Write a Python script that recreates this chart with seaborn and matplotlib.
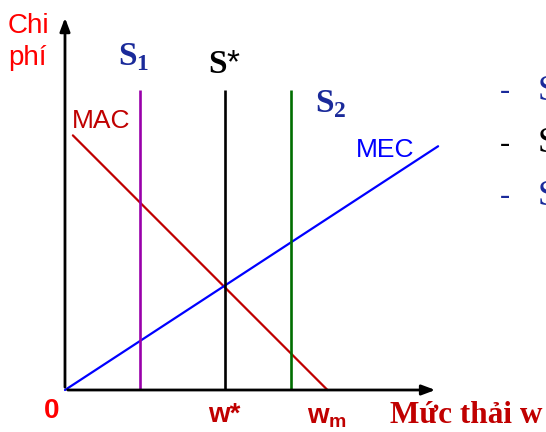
import seaborn as sns
import matplotlib.pyplot as plt
import pandas as pd

sns.set_style('white')
plt.rcParams['font.family'] = ['Liberation Sans', 'DejaVu Sans']
plt.rcParams['mathtext.fontset'] = 'custom'
plt.rcParams['mathtext.bf'] = 'Liberation Serif:bold'
plt.rcParams['mathtext.rm'] = 'Liberation Serif:bold'

# curves (emission level w, cost)
mac_x = [0.21, 7.0]
mac_y = [6.79, 0.0]
mec_x = [0.0, 9.95]
mec_y = [0.0, 6.5]

# standards (vertical lines)
std_names = ['S1', 'S*', 'S2']
std_x = [2.0, 4.27, 6.03]
std_top = 8.0
std_colors = ['#9900aa', 'black', '#006e00']

w_star = 4.27
w_m = 7.0

df = pd.concat([
    pd.DataFrame({'w': mac_x, 'cost': mac_y, 'curve': 'MAC'}),
    pd.DataFrame({'w': mec_x, 'cost': mec_y, 'curve': 'MEC'}),
])

fig = plt.figure(figsize=(5.46, 4.32), dpi=100)
ax = fig.add_axes([0, 0, 1, 1])

sns.lineplot(data=df, x='w', y='cost', hue='curve',
             palette={'MAC': '#c00000', 'MEC': '#0000ff'},
             linewidth=1.6, legend=False, ax=ax)

for x, c in zip(std_x, std_colors):
    ax.vlines(x, 0, std_top, color=c, linewidth=1.9)

# axes with arrows
ax.annotate('', xy=(9.95, 0), xytext=(0, 0),
            arrowprops=dict(arrowstyle='-|>,head_length=0.8,head_width=0.3', color='black', lw=2))
ax.annotate('', xy=(0, 10.0), xytext=(0, 0),
            arrowprops=dict(arrowstyle='-|>,head_length=0.8,head_width=0.3', color='black', lw=2))

ax.set_xlim(-1.733, 12.827)
ax.set_ylim(-1.12, 10.4)
ax.axis('off')

navy = '#1a2a9a'
dred = '#c00000'

ax.text(-1.52, 9.52, 'Chi', color='red', fontsize=20, ha='left', va='baseline')
ax.text(-1.52, 8.67, 'phí', color='red', fontsize=20, ha='left', va='baseline')
ax.text(1.41, 8.67, r'$\mathbf{S}_{\mathbf{1}}$', color=navy, fontsize=24, ha='left', va='baseline')
ax.text(3.81, 8.45, r'$\mathbf{S}$*', color='black', fontsize=24, ha='left', va='baseline')
ax.text(6.67, 7.41, r'$\mathbf{S}_{\mathbf{2}}$', color=navy, fontsize=24, ha='left', va='baseline')
ax.text(0.19, 6.99, 'MAC', color=dred, fontsize=19, ha='left', va='baseline')
ax.text(7.75, 6.21, 'MEC', color='#0000ff', fontsize=19, ha='left', va='baseline')

ax.text(-0.35, -0.75, '0', color='red', fontsize=20, fontweight='bold', ha='center', va='baseline')
ax.text(3.81, -0.85, 'w*', color=dred, fontsize=20, fontweight='bold', ha='left', va='baseline')
ax.text(6.45, -0.88, r'w$_{\mathregular{m}}$', color=dred, fontsize=20, fontweight='bold',
        ha='left', va='baseline')
ax.text(8.67, -0.87, 'Mức thải w', color=dred, fontsize=22.5, fontweight='bold',
        family='Liberation Serif', ha='left', va='baseline')

# cut-off bullet list on the right edge
for yy, c in zip([7.97, 6.56, 5.17], ['#1a2a9a', 'black', '#1a2a9a']):
    ax.text(11.6, yy, '-', color=c, fontsize=22, family='Liberation Serif',
            ha='left', va='center')
    ax.text(12.61, yy, 'S', color=c, fontsize=26, family='Liberation Serif',
            ha='left', va='center')

fig.savefig('out.png', dpi=100)
